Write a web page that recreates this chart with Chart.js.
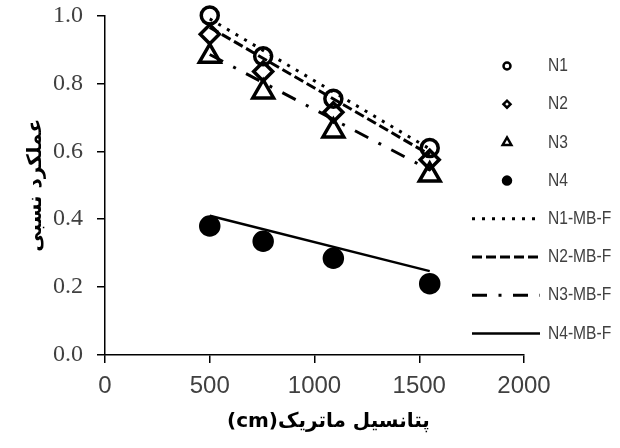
<!DOCTYPE html>
<html>
<head>
<meta charset="utf-8">
<script src="https://cdn.jsdelivr.net/npm/chart.js@4.4.1/dist/chart.umd.min.js"></script>
<style>
  html, body { margin: 0; padding: 0; background: #fff; }
  #wrap { width: 620px; height: 448px; }
</style>
</head>
<body>
<div id="wrap"><canvas id="chart"></canvas></div>
<script>
// matric potential (cm) and relative yield
const potential = [500, 755, 1090, 1550];
const n1 = [1.0, 0.88, 0.755, 0.61];
const n2 = [0.945, 0.835, 0.715, 0.575];
const n3 = [0.88, 0.775, 0.66, 0.53];
const n4 = [0.38, 0.335, 0.285, 0.21];

// fitted model lines (MB-F), end points only
const fitX = [500, 1550];
const n1Fit = [0.99, 0.607];
const n2Fit = [0.965, 0.59];
const n3Fit = [0.885, 0.545];
const n4Fit = [0.41, 0.247];

const xTicks = [0, 500, 1000, 1500, 2000];
const yTicks = [0, 0.2, 0.4, 0.6, 0.8, 1.0];

const pts = (xs, ys) => xs.map((x, i) => ({ x: x, y: ys[i] }));

const marker = (label, data, style, radius, fill) => ({
  label: label,
  data: pts(potential, data),
  pointStyle: style,
  pointRadius: radius,
  pointHoverRadius: radius,
  pointBorderWidth: 3.5,
  pointBorderColor: '#000',
  pointBackgroundColor: fill,
  showLine: false,
  clip: false,
  legendRadius: style === 'triangle' ? 5 : (fill === '#000' ? 4 : 3.5)
});

const fit = (label, data, dash, width) => ({
  label: label,
  data: pts(fitX, data),
  showLine: true,
  borderColor: '#000',
  borderWidth: width,
  borderDash: dash,
  pointRadius: 0,
  pointHoverRadius: 0,
  clip: false,
  fill: false
});

// legend drawn inside the plot, on the right, like the original
const legendBox = {
  id: 'legendBox',
  afterDraw(chart) {
    const ctx = chart.ctx;
    ctx.save();
    chart.data.datasets.forEach((ds, i) => {
      const y = 66 + i * 38.2;
      ctx.strokeStyle = '#000';
      if (ds.showLine) {
        ctx.lineWidth = ds.borderWidth;
        ctx.setLineDash(ds.borderDash || []);
        ctx.beginPath();
        ctx.moveTo(472, y);
        ctx.lineTo(540, y);
        ctx.stroke();
        ctx.setLineDash([]);
      } else {
        ctx.fillStyle = ds.pointBackgroundColor;
        ctx.lineWidth = 2.5;
        Chart.helpers.drawPoint(ctx, {
          pointStyle: ds.pointStyle, radius: ds.legendRadius, borderWidth: 2.5, rotation: 0
        }, 507, y);
      }
      // the original legend text is a narrow face: squeeze it a bit
      ctx.save();
      ctx.translate(548, y);
      ctx.scale(0.82, 1);
      ctx.fillStyle = '#404040';
      ctx.font = '19px "Liberation Sans", Arial, sans-serif';
      ctx.textAlign = 'left';
      ctx.textBaseline = 'middle';
      ctx.fillText(ds.label, 0, 0);
      ctx.restore();
    });
    ctx.restore();
  }
};

new Chart(document.getElementById('chart'), {
  type: 'scatter',
  data: {
    datasets: [
      marker('N1', n1, 'circle', 8.5, 'rgba(0,0,0,0)'),
      marker('N2', n2, 'rectRot', 9.5, 'rgba(0,0,0,0)'),
      marker('N3', n3, 'triangle', 12, 'rgba(0,0,0,0)'),
      marker('N4', n4, 'circle', 9, '#000'),
      fit('N1-MB-F', n1Fit, [3, 7], 3),
      fit('N2-MB-F', n2Fit, [10, 4], 3),
      fit('N3-MB-F', n3Fit, [15, 11.5, 3, 11.5], 3),
      fit('N4-MB-F', n4Fit, [], 2.5)
    ]
  },
  options: {
    responsive: true,
    maintainAspectRatio: false,
    animation: false,
    layout: { padding: { left: 0, top: 15, right: 96, bottom: 0 } },
    plugins: {
      legend: { display: false },
      tooltip: { enabled: false }
    },
    scales: {
      x: {
        type: 'linear',
        min: 0,
        max: 2000,
        afterBuildTicks: s => { s.ticks = xTicks.map(v => ({ value: v })); },
        afterFit: s => { s.height = 93; },
        border: { color: '#000', width: 1.5 },
        grid: { drawOnChartArea: false, drawTicks: true, tickLength: 8, color: '#000', lineWidth: 1.5 },
        ticks: {
          color: '#404040',
          padding: 9,
          callback: v => String(v),
          font: { family: '"Liberation Sans", Arial, sans-serif', size: 24 }
        },
        title: {
          display: true,
          // the trailing spaces sit on the left in RTL and nudge the title right, as in the original
          text: '\u202Bپتانسیل ماتریک(cm)\u00A0\u00A0\u00A0\u00A0\u202C',
          color: '#000',
          font: { family: '"DejaVu Sans", sans-serif', size: 20, weight: 'bold' },
          padding: { top: 0, bottom: 14 }
        }
      },
      y: {
        type: 'linear',
        min: 0,
        max: 1,
        afterBuildTicks: s => { s.ticks = yTicks.map(v => ({ value: v })); },
        afterFit: s => { s.width = 105; s.paddingTop = 14; s.paddingBottom = 14; },
        border: { color: '#000', width: 1.5 },
        grid: { drawOnChartArea: false, drawTicks: true, tickLength: 8, color: '#000', lineWidth: 1.5 },
        ticks: {
          color: '#404040',
          padding: 14,
          callback: v => v.toFixed(1),
          font: { family: '"Liberation Serif", "Times New Roman", serif', size: 24 }
        },
        title: {
          display: true,
          text: 'عملکرد نسبی',
          color: '#000',
          font: { family: '"DejaVu Sans", sans-serif', size: 20, weight: 'bold' },
          padding: { top: 24, bottom: 0 }
        }
      }
    }
  },
  plugins: [legendBox]
});
</script>
</body>
</html>
